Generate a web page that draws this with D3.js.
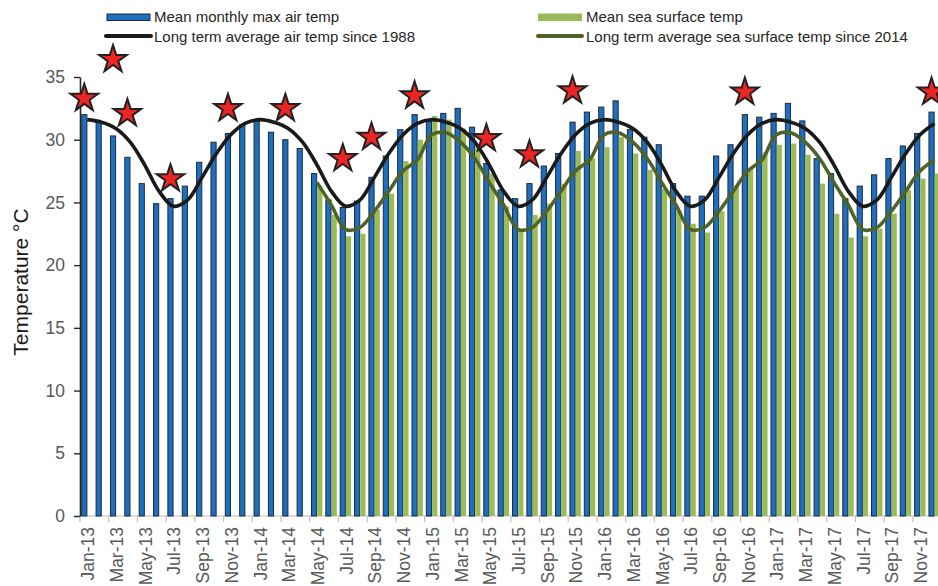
<!DOCTYPE html>
<html><head><meta charset="utf-8">
<script src="https://cdn.jsdelivr.net/npm/d3@7"></script>
<style>
body{margin:0;background:#fff}
svg{display:block;font-family:"Liberation Sans",Arial,sans-serif}
</style>
</head><body><svg id="c" width="938" height="586"></svg>
<script>
const months = [
 "Jan-13","Feb-13","Mar-13","Apr-13","May-13","Jun-13","Jul-13","Aug-13","Sep-13","Oct-13","Nov-13","Dec-13",
 "Jan-14","Feb-14","Mar-14","Apr-14","May-14","Jun-14","Jul-14","Aug-14","Sep-14","Oct-14","Nov-14","Dec-14",
 "Jan-15","Feb-15","Mar-15","Apr-15","May-15","Jun-15","Jul-15","Aug-15","Sep-15","Oct-15","Nov-15","Dec-15",
 "Jan-16","Feb-16","Mar-16","Apr-16","May-16","Jun-16","Jul-16","Aug-16","Sep-16","Oct-16","Nov-16","Dec-16",
 "Jan-17","Feb-17","Mar-17","Apr-17","May-17","Jun-17","Jul-17","Aug-17","Sep-17","Oct-17","Nov-17","Dec-17"];

const airMax = [
 32.0,31.4,30.3,28.6,26.5,24.9,25.3,26.3,28.2,29.8,30.5,31.2,
 31.5,30.6,30.0,29.3,27.3,25.2,24.6,25.1,27.0,28.7,30.8,32.0,
 31.5,32.1,32.5,31.0,28.1,26.0,25.3,26.5,27.9,28.9,31.4,32.2,
 32.6,33.1,30.8,30.2,29.6,26.5,25.5,25.5,28.7,29.6,32.0,31.8,
 32.1,32.9,31.5,28.5,27.3,25.3,26.3,27.2,28.5,29.5,30.5,32.2];

const seaSurface = [
 null,null,null,null,null,null,null,null,null,null,null,null,
 null,null,null,null,26.3,24.0,22.3,22.5,24.4,25.7,28.3,30.0,
 31.9,31.6,30.9,29.5,27.3,24.7,22.8,24.0,24.9,26.5,29.1,28.5,
 29.4,30.2,28.9,27.6,26.1,24.3,23.3,22.6,24.3,26.3,27.7,29.0,
 29.6,29.7,28.8,26.5,24.1,22.2,22.3,22.9,24.1,26.0,26.9,27.3];

const airLongTermAvg = [
 31.6,31.4,30.9,29.8,28.0,25.9,24.7,25.2,27.0,28.9,30.4,31.3,
 31.6,31.4,30.9,29.8,28.0,25.9,24.7,25.2,27.0,28.9,30.4,31.3,
 31.6,31.4,30.9,29.8,28.0,25.9,24.7,25.2,27.0,28.9,30.4,31.3,
 31.6,31.4,30.9,29.8,28.0,25.9,24.7,25.2,27.0,28.9,30.4,31.3,
 31.6,31.4,30.9,29.8,28.0,25.9,24.7,25.2,27.0,28.9,30.4,31.3];

const seaLongTermAvg = [
 null,null,null,null,null,null,null,null,null,null,null,null,
 null,null,null,null,26.6,24.8,22.85,23.0,24.3,25.9,27.5,28.4,
 30.4,30.55,29.8,28.5,26.6,24.8,22.85,23.0,24.3,25.9,27.5,28.4,
 30.4,30.55,29.8,28.5,26.6,24.8,22.85,23.0,24.3,25.9,27.5,28.4,
 30.4,30.55,29.8,28.5,26.6,24.8,22.85,23.0,24.3,25.9,27.5,28.4];

const starMonths = ["Jan-13","Mar-13","Apr-13","Jul-13","Nov-13","Mar-14","Jul-14","Sep-14","Dec-14","May-15","Aug-15","Nov-15","Nov-16","Dec-17"];
const starValues = [33.3,36.4,32.1,26.9,32.5,32.5,28.5,30.2,33.5,30.1,28.8,33.9,33.8,33.8];

const yTicks = [0,5,10,15,20,25,30,35];
const xLabelMonths = months.filter((m,i)=>i%2===0);

const legendLeft = ["Mean monthly max air temp","Long term average air temp since 1988"];
const legendRight = ["Mean sea surface temp","Long term average sea surface temp since 2014"];

const C = {blue:"#1f6fc1", blueStroke:"#1b2a3a", green:"#9bbb59", olive:"#4f6228", black:"#1a1a1a", red:"#ec2424"};

const svg = d3.select("#c");
const x = d3.scaleBand().domain(months).range([80, 941.6]).paddingInner(0).paddingOuter(0);
const y = d3.scaleLinear().domain([0,35]).range([516,77]);
const bw = x.bandwidth();
const inner = d3.scaleBand().domain(["air","sea"]).range([0,bw]).paddingInner(0.1).paddingOuter(0.3);

// x axis line & ticks
const gx = svg.append("g");
gx.append("line").attr("x1",80).attr("x2",938).attr("y1",y(0)).attr("y2",y(0)).attr("stroke","#bfbfbf").attr("stroke-width",1.2);
gx.selectAll("line.t").data(xLabelMonths).enter().append("line")
  .attr("x1",d=>x(d)).attr("x2",d=>x(d)).attr("y1",y(0)).attr("y2",y(0)+6)
  .attr("stroke","#bfbfbf").attr("stroke-width",1.2);
gx.selectAll("text").data(xLabelMonths).enter().append("text")
  .attr("transform",d=>`translate(${x(d)+bw/2+1},${y(0)+11}) rotate(-90)`)
  .attr("text-anchor","end").attr("dominant-baseline","central")
  .attr("font-size",17.5).attr("fill","#595959").text(d=>d);

// bars
const data = months.map((m,i)=>({m, air:airMax[i], sea:seaSurface[i], al:airLongTermAvg[i], sl:seaLongTermAvg[i]}));
svg.append("g").selectAll("rect").data(data).enter().append("rect")
  .attr("x",d=>x(d.m)+inner("air")).attr("width",inner.bandwidth())
  .attr("y",d=>y(d.air)).attr("height",d=>y(0)-y(d.air))
  .attr("fill",C.blue).attr("stroke",C.blueStroke).attr("stroke-width",1);
svg.append("g").selectAll("rect").data(data.filter(d=>d.sea!=null)).enter().append("rect")
  .attr("x",d=>x(d.m)+inner("sea")).attr("width",inner.bandwidth())
  .attr("y",d=>y(d.sea)).attr("height",d=>y(0)-y(d.sea))
  .attr("fill",C.green);

// y axis
const gy = svg.append("g").attr("transform","translate(80,0)")
  .call(d3.axisLeft(y).tickValues(yTicks).tickSize(6).tickSizeOuter(0).tickPadding(9));
gy.select(".domain").attr("stroke","#262626").attr("stroke-width",1.6);
gy.selectAll(".tick line").attr("stroke","#262626").attr("stroke-width",1.4);
gy.selectAll(".tick text").attr("font-size",17.5).attr("fill","#595959").attr("font-family","Liberation Sans, Arial, sans-serif");

svg.append("text").attr("transform","translate(28,282) rotate(-90)")
  .attr("text-anchor","middle").attr("font-size",21).attr("fill","#1a1a1a").text("Temperature \u00B0C");

// lines
const cx = d=>x(d.m)+bw/2;
const lineAir = d3.line().x(cx).y(d=>y(d.al)).curve(d3.curveCatmullRom.alpha(0.5));
const lineSea = d3.line().x(cx).y(d=>y(d.sl)).curve(d3.curveCatmullRom.alpha(0.5));
svg.append("path").datum(data.filter(d=>d.sl!=null)).attr("d",lineSea).attr("fill","none")
  .attr("stroke",C.olive).attr("stroke-width",3.6).attr("stroke-linejoin","round");
svg.append("path").datum(data).attr("d",lineAir).attr("fill","none")
  .attr("stroke",C.black).attr("stroke-width",3.6).attr("stroke-linejoin","round");

// stars
const star = d3.symbol().type(d3.symbolStar).size(235);
svg.append("g").selectAll("path").data(starMonths.map((m,i)=>({m,v:starValues[i]}))).enter().append("path")
  .attr("transform",d=>`translate(${x(d.m)+inner("air")+inner.bandwidth()/2},${y(d.v)})`)
  .attr("d",star).attr("fill",C.red).attr("stroke","#222").attr("stroke-width",2).attr("stroke-linejoin","miter");

// legend
const lg = svg.append("g").attr("font-size",15).attr("fill","#262626");
lg.append("rect").attr("x",107).attr("y",14).attr("width",43).attr("height",6.5).attr("fill",C.blue).attr("stroke",C.blueStroke).attr("stroke-width",1);
lg.append("line").attr("x1",106).attr("x2",151).attr("y1",36).attr("y2",36).attr("stroke",C.black).attr("stroke-width",4).attr("stroke-linecap","round");
lg.append("text").attr("x",154).attr("y",22).text(legendLeft[0]);
lg.append("text").attr("x",154).attr("y",42).text(legendLeft[1]);
lg.append("rect").attr("x",538).attr("y",13.5).attr("width",44).attr("height",7.5).attr("fill",C.green);
lg.append("line").attr("x1",538).attr("x2",582).attr("y1",36).attr("y2",36).attr("stroke",C.olive).attr("stroke-width",4).attr("stroke-linecap","round");
lg.append("text").attr("x",586).attr("y",22).text(legendRight[0]);
lg.append("text").attr("x",586).attr("y",42).text(legendRight[1]);
</script>
</body></html>
